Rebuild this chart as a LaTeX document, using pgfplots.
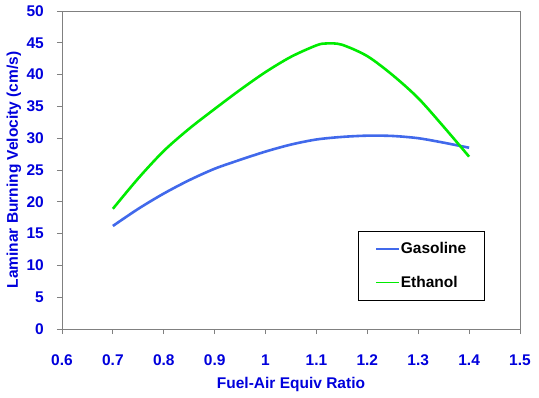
\documentclass[border=0pt]{standalone}
\usepackage{pgfplots}
\pgfplotsset{compat=1.18}
\usepackage{fontspec}
\setmainfont{Liberation Sans}
\definecolor{lblue}{RGB}{0,0,220}
\definecolor{gasc}{RGB}{65,105,235}
\definecolor{ethc}{RGB}{0,235,0}
\begin{document}
\begin{tikzpicture}
\useasboundingbox (-62pt,-68pt) rectangle (477pt,329pt);
\begin{axis}[
  scale only axis,
  width=458pt, height=318pt,
  xmin=0.6, xmax=1.5, ymin=0, ymax=50,
  xtick={0.6,0.7,...,1.5},
  ytick={0,5,...,50},
  xticklabels={0.6,0.7,0.8,0.9,1,1.1,1.2,1.3,1.4,1.5},
  xtick pos=left, ytick pos=left,
  tick align=outside,
  major tick length=5pt,
  tick style={gray, line width=0.8pt},
  axis line style={gray, line width=0.8pt},
  ticklabel style={font=\bfseries\fontsize{15.5}{18}\selectfont, text=lblue},
  xticklabel style={anchor=base, inner sep=0pt, yshift=-31pt},
  yticklabel style={anchor=east, inner sep=0pt, xshift=-13pt},
  /pgf/number format/assume math mode=true,
  xlabel={Fuel-Air Equiv Ratio},
  ylabel={Laminar Burning Velocity (cm/s)},
  label style={font=\bfseries\fontsize{15.5}{18}\selectfont, text=lblue},
  xlabel style={at={(axis description cs:0.5,0)}, anchor=base, inner sep=0pt, yshift=-59pt},
  ylabel style={at={(axis description cs:0,0.5)}, anchor=base, inner sep=0pt, yshift=44pt},
  legend style={at={(0.646,0.308)}, anchor=north west, draw=black, line width=0.8pt,
    font=\bfseries\fontsize{15.5}{18}\selectfont, inner xsep=17pt, inner ysep=10pt,
    row sep=19pt, nodes={inner sep=1pt}},
  legend cell align=left,
  legend image code/.code={\draw[#1, line width=1.6pt] (0pt,0pt) -- (23pt,0pt);},
]
\addplot[gasc, line width=2.6pt, smooth] coordinates {
(0.7,16.2) (0.75,18.9) (0.8,21.3) (0.85,23.4) (0.9,25.2) (0.95,26.6) (1.0,27.9)
(1.05,29.0) (1.1,29.8) (1.15,30.2) (1.2,30.4) (1.25,30.35) (1.3,30.0) (1.35,29.3) (1.4,28.5)};
\addlegendentry{Gasoline}
\addplot[ethc, line width=2.6pt, smooth] coordinates {
(0.7,18.9) (0.75,23.7) (0.8,28.0) (0.85,31.5) (0.9,34.6) (0.95,37.6) (1.0,40.4)
(1.05,42.8) (1.1,44.6) (1.12,44.9) (1.15,44.7) (1.2,42.9) (1.25,39.9) (1.3,36.3) (1.35,31.8) (1.4,27.1)};
\addlegendentry{Ethanol}
\end{axis}
\end{tikzpicture}
\end{document}
